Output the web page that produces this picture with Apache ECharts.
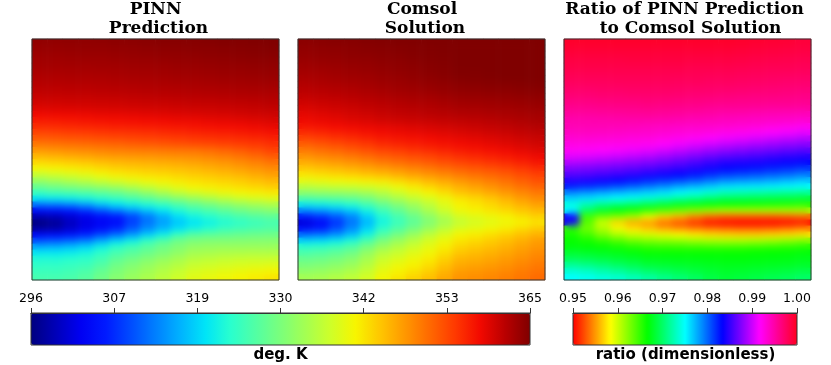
<!DOCTYPE html>
<html><head><meta charset="utf-8">
<style>html,body{margin:0;padding:0;background:#fff}#w{position:relative;width:831px;height:365px}#c{width:831px;height:365px}
.soft{position:absolute;top:40px;width:245px;height:239px;-webkit-backdrop-filter:blur(3.5px);backdrop-filter:blur(3.5px)}</style>
<script src="https://cdn.jsdelivr.net/npm/echarts@6/dist/echarts.min.js"></script>
</head><body><div id="w"><div id="c"></div><div class="soft" style="left:33px"></div><div class="soft" style="left:299px"></div><div class="soft" style="left:565px"></div></div><script>
const pinnRows = [
[363.9,363.9,364,364,364.1,364.2,364.3,364.4,364.5,364.5,364.6,364.7,364.8,364.8,364.9,365],
[363.6,363.6,363.7,363.8,363.8,363.9,364,364.1,364.2,364.3,364.4,364.4,364.5,364.6,364.7,364.8],
[363.3,363.3,363.4,363.5,363.5,363.6,363.7,363.8,363.9,364,364.1,364.2,364.3,364.4,364.5,364.6],
[363,363,363.1,363.2,363.2,363.3,363.4,363.5,363.6,363.7,363.8,363.9,364,364.1,364.2,364.3],
[362.8,362.8,362.9,362.9,363,363,363.1,363.2,363.3,363.4,363.5,363.6,363.7,363.8,363.9,364],
[362.4,362.4,362.5,362.6,362.6,362.7,362.8,362.9,363,363.1,363.2,363.3,363.4,363.5,363.6,363.7],
[362.1,362.1,362.2,362.2,362.3,362.4,362.5,362.6,362.7,362.8,362.9,363,363.1,363.2,363.3,363.4],
[361.7,361.7,361.8,361.8,361.9,362,362.1,362.2,362.3,362.4,362.5,362.6,362.7,362.8,362.9,363],
[361.3,361.3,361.4,361.4,361.5,361.6,361.7,361.8,361.9,362,362.1,362.2,362.3,362.4,362.5,362.6],
[360.8,360.8,360.9,360.9,361,361.1,361.2,361.3,361.4,361.5,361.6,361.7,361.8,361.9,362,362.1],
[360.2,360.2,360.3,360.3,360.4,360.5,360.6,360.7,360.8,360.9,361,361.1,361.2,361.3,361.4,361.6],
[359.4,359.5,359.6,359.7,359.8,359.9,360,360.1,360.2,360.3,360.4,360.5,360.6,360.7,360.9,361.1],
[358.3,358.4,358.5,358.6,358.8,358.9,359,359.2,359.3,359.5,359.6,359.8,359.9,360.1,360.3,360.5],
[357,357.1,357.3,357.5,357.7,357.9,358,358.2,358.3,358.5,358.6,358.8,359,359.2,359.4,359.7],
[355.7,355.9,356.1,356.3,356.5,356.7,356.9,357,357.2,357.4,357.6,357.8,358,358.2,358.5,358.8],
[354,354.2,354.5,354.7,355,355.2,355.4,355.6,355.9,356.1,356.4,356.6,356.8,357.1,357.4,357.7],
[352.3,352.5,352.8,353,353.3,353.6,353.9,354.2,354.4,354.7,355,355.3,355.5,355.8,356.1,356.5],
[350.1,350.4,350.7,351,351.3,351.6,352,352.3,352.7,353,353.4,353.7,354.1,354.5,354.9,355.4],
[347.8,348.2,348.6,348.9,349.3,349.7,349.9,350,350.2,350.4,350.5,351,351.6,352.3,353.2,354.1],
[345.4,345.8,346.3,346.7,347.2,347.6,347.8,348,348.3,348.5,348.7,349.2,349.8,350.5,351.3,352.2],
[343,343.4,343.8,344.3,344.9,345.4,345.7,346,346.3,346.6,347,347.5,348,348.7,349.5,350.4],
[340.6,341,341.5,342,342.8,343.6,344,344.4,344.7,345,345.4,346,346.6,347.2,348,348.7],
[337,337.8,338.6,339.4,340.5,341.5,342,342.6,343,343.5,344,344.5,345,345.6,346.4,347.2],
[333,334,335,336,337.3,338.5,339.5,340.4,341.2,341.9,342.5,343,343.5,344,344.8,345.5],
[329,330,331,332,333,334,335.5,337,338.5,339.8,341,341.5,342,342.7,343.3,344],
[325,326,326.5,327,328,329,330.5,332.5,334.5,336.5,338,339,340,340.7,341.3,341.8],
[320.5,321,321.5,322.5,323.8,325,326.5,328,329.8,331.5,333,334.5,336,337.3,338.2,339],
[312.5,313,314,315.5,318,320,321.5,323,324.5,326.5,328.5,330,331.5,332.8,333.8,334.5],
[304.5,305,306,308,310.5,313,315.5,318,320.5,323,325,326.5,328,329.5,330.6,331.5],
[299,299.5,301,302.5,304.5,306,309,312.5,316,319.5,322,323.5,325,326.3,327.3,328],
[296,297.5,300,302,303.5,304.5,309,312.5,315.5,318,320,321.5,323,324,325,326],
[298,298.5,300.5,302.5,304.5,307,310.5,314,317,319.8,322,323.5,325,325.8,326.5,327],
[304,304.5,305.5,307,309.5,312,315,318.5,321.5,325,327.5,328,328.5,329,329.2,329.5],
[310,310.5,311.5,313,316,319,321.5,324.5,327,329.5,330.5,331,331,331.2,331.4,331.5],
[316,316.5,317.5,319,321.5,324,325.8,327.5,329.5,331,332.5,332.8,333,333,333,333],
[320.5,320.5,321,322,324,326,327.5,329,330.5,332.2,333.8,334.2,334.6,334.8,335,335],
[323,323,323.5,324,325.5,328,329.5,331,332.5,334,335.5,336,336.5,336.8,337,337],
[324,324,324.5,325,327,329.5,331,332.5,334,335.3,336.8,337.3,337.8,338.2,338.5,338.8],
[325,325,325.5,326.5,328.5,330.5,332,333.5,335,336.5,338,338.6,339.2,339.7,340.2,340.5],
[326,326,326.5,327.5,329.5,331.5,333,334.5,336,337.5,339,339.7,340.3,340.9,341.5,342]
];
const comsolRows = [
[364.3,364.4,364.5,364.6,364.7,364.8,364.9,364.9,365,365,365,365,365,365,365,365],
[364,364.1,364.2,364.3,364.5,364.6,364.7,364.8,364.9,365,365,365,365,365,365,365],
[363.8,363.9,364,364.2,364.3,364.4,364.5,364.7,364.8,364.9,365,365,365,365,365,365],
[363.5,363.6,363.7,363.9,364,364.2,364.3,364.5,364.7,364.8,365,365,365,365,365,365],
[363.1,363.3,363.4,363.6,363.7,363.9,364.1,364.3,364.5,364.7,365,365,365,365,365,365],
[362.8,362.9,363.1,363.3,363.5,363.7,363.9,364.1,364.4,364.6,364.9,364.9,365,365,365,365],
[362.4,362.6,362.8,363,363.1,363.4,363.6,363.9,364.1,364.4,364.7,364.8,364.9,365,365,365],
[362,362.2,362.4,362.6,362.8,363.1,363.3,363.5,363.8,364,364.3,364.4,364.5,364.6,364.7,364.8],
[361.5,361.7,361.9,362.1,362.4,362.7,363,363.2,363.4,363.7,364,364.1,364.2,364.3,364.4,364.5],
[361,361.2,361.4,361.6,361.9,362.2,362.5,362.7,362.9,363.2,363.5,363.6,363.7,363.8,364,364.1],
[360.3,360.6,360.8,361.1,361.4,361.7,362,362.2,362.4,362.7,363,363.1,363.2,363.4,363.5,363.7],
[359.7,360,360.3,360.5,360.9,361.2,361.5,361.7,361.9,362.2,362.5,362.6,362.8,362.9,363.1,363.3],
[359,359.3,359.6,360,360.3,360.7,361,361.2,361.5,361.7,362,362.1,362.3,362.5,362.7,362.9],
[358.4,358.7,359,359.4,359.7,360.2,360.4,360.6,360.8,361,361.2,361.4,361.6,361.9,362.2,362.5],
[357.4,357.7,358.1,358.4,358.7,359,359.3,359.6,359.9,360.2,360.5,360.7,361,361.3,361.6,362],
[355.8,356.2,356.7,357.2,357.7,358.2,358.5,358.8,359.1,359.4,359.7,360,360.3,360.6,361,361.3],
[354,354.6,355.2,355.7,356.4,357,357.4,357.7,358.1,358.5,358.9,359.2,359.5,359.9,360.3,360.7],
[352,352.7,353.4,354.1,354.9,355.8,356.3,356.7,357.2,357.6,358,358.4,358.8,359.3,359.7,360.2],
[350,350.8,351.5,352.3,353.2,354,354.6,355.2,355.8,356.4,357,357.4,357.8,358.3,358.9,359.4],
[348.2,348.9,349.5,350.2,351.1,352,352.7,353.3,354,354.8,355.5,356,356.5,357.1,357.7,358.4],
[346.2,346.9,347.5,348.2,349.1,350,350.8,351.6,352.4,353.2,354,354.6,355.2,355.8,356.6,357.4],
[344.2,344.8,345.3,346,346.8,347.5,348.4,349.3,350.2,351.1,352,352.6,353.2,354,354.9,355.8],
[342,342.6,343.2,343.8,344.6,345.3,346.2,347.2,348.1,349,350,350.8,351.6,352.4,353.4,354.3],
[339.5,340,340.5,341,341.5,342,343.2,344.4,345.6,346.8,348,348.9,349.8,350.8,352,353],
[336,336.5,337,337.2,338,338.8,340.2,341.7,343.2,344.6,346,347,348.2,349.4,350.6,351.7],
[332,332.5,332.8,333.2,334,335.5,337.5,339.3,341,342.7,344.5,345.5,346.5,347.8,349,350],
[327,327.5,328,328.6,330,332.5,334.5,336.5,338.2,340,342,343,344.3,345.8,347.4,348.7],
[321,321.5,322.3,323.5,325.8,328.5,331,333.5,336,338.8,341,342,343,344.4,345.8,347],
[314,315,316.5,318.5,322,325.5,328.5,331.5,334.5,337.5,340,341,342,343,344.2,345.3],
[306.5,308,310.5,313.5,318.5,323,326,329,332,335,338,339,340,341,342.3,343.5],
[301.5,304,308,312.5,317,322,325,328,331,334,336.5,338,339,340,341,342],
[305,306.5,310,314,319,324,327,330,333,336,338.5,339.5,340.5,341.5,342.8,344],
[312,312.7,314.5,317.5,322,327,330,333,336,338.5,340.7,341.5,342.5,343.5,344.7,345.8],
[319,319.5,321,323,326.5,330.5,333,335.5,338,340,342,342.8,343.8,344.8,346,347.2],
[324,324.5,325.5,327,330,333,335.3,337.3,339.3,341.3,343.2,344,344.8,345.7,346.8,347.8],
[326.5,327,328,329.5,332.5,335.5,337,338.8,340.3,342.3,344.3,345,345.8,346.6,347.6,348.6],
[328.8,329.2,330.2,331.5,334,337,338.5,340,341.5,343.5,345.5,346,346.6,347.4,348.3,349.2],
[330.3,330.8,331.8,333,335.3,338.3,339.8,341,342.5,344.5,346.3,346.8,347.4,348.1,349,349.8],
[332,332.5,333.4,334.5,336.5,339.3,340.8,342,343.5,345.5,347.2,347.7,348.2,348.8,349.6,350.4],
[334,334.4,335.2,336.2,338,340.5,342,343.4,344.8,346.5,348,348.4,348.9,349.5,350.2,351]
];
const ratioRows = [
[.9996,.9996,.9996,.9996,.9996,.9996,.9996,.9996,.9996,.9996,.9996,.9995,.9994,.9993,.9992,.9990],
[.9993,.9993,.9993,.9993,.9993,.9993,.9993,.9993,.9993,.9993,.9993,.9992,.9991,.9990,.9989,.9988],
[.9990,.9990,.9990,.9990,.9990,.9990,.9990,.9990,.9990,.9990,.9990,.9989,.9988,.9987,.9986,.9985],
[.9987,.9987,.9987,.9987,.9988,.9988,.9988,.9988,.9987,.9987,.9987,.9986,.9985,.9984,.9983,.9982],
[.9985,.9985,.9985,.9985,.9985,.9985,.9985,.9985,.9984,.9984,.9984,.9983,.9982,.9981,.9981,.9980],
[.9982,.9982,.9982,.9982,.9982,.9982,.9982,.9982,.9981,.9981,.9981,.9980,.9979,.9978,.9978,.9977],
[.9979,.9979,.9979,.9980,.9980,.9980,.9980,.9979,.9979,.9978,.9978,.9977,.9976,.9975,.9974,.9973],
[.9976,.9976,.9976,.9977,.9977,.9977,.9977,.9976,.9976,.9975,.9975,.9974,.9973,.9972,.9971,.9970],
[.9972,.9972,.9973,.9973,.9974,.9974,.9974,.9973,.9972,.9972,.9971,.9970,.9969,.9968,.9967,.9966],
[.9968,.9968,.9969,.9969,.9970,.9970,.9970,.9969,.9968,.9967,.9966,.9965,.9964,.9964,.9963,.9962],
[.9963,.9963,.9964,.9965,.9965,.9966,.9965,.9964,.9963,.9962,.9961,.9960,.9960,.9959,.9959,.9958],
[.9958,.9958,.9959,.9960,.9960,.9961,.9960,.9959,.9958,.9956,.9955,.9955,.9954,.9953,.9953,.9952],
[.9953,.9953,.9954,.9954,.9955,.9955,.9954,.9953,.9951,.9950,.9948,.9947,.9945,.9944,.9943,.9942],
[.9947,.9947,.9947,.9948,.9948,.9948,.9947,.9946,.9944,.9943,.9941,.9940,.9939,.9938,.9937,.9935],
[.9945,.9945,.9945,.9944,.9943,.9941,.9940,.9938,.9937,.9936,.9935,.9933,.9931,.9928,.9925,.9922],
[.9940,.9940,.9939,.9938,.9937,.9936,.9934,.9932,.9930,.9928,.9925,.9923,.9920,.9917,.9914,.9910],
[.9934,.9934,.9933,.9932,.9930,.9929,.9926,.9923,.9920,.9916,.9912,.9909,.9905,.9901,.9897,.9893],
[.9927,.9926,.9925,.9924,.9923,.9921,.9917,.9912,.9907,.9902,.9897,.9893,.9889,.9885,.9881,.9878],
[.9920,.9919,.9917,.9914,.9911,.9908,.9903,.9897,.9891,.9885,.9880,.9876,.9872,.9869,.9865,.9862],
[.9908,.9906,.9903,.9900,.9896,.9892,.9886,.9880,.9874,.9868,.9862,.9859,.9856,.9852,.9848,.9845],
[.9892,.9890,.9887,.9883,.9879,.9875,.9870,.9864,.9858,.9851,.9845,.9843,.9841,.9838,.9835,.9833],
[.9875,.9873,.9870,.9867,.9864,.9860,.9855,.9850,.9844,.9839,.9834,.9831,.9828,.9824,.9820,.9815],
[.9862,.9860,.9857,.9853,.9848,.9842,.9838,.9834,.9828,.9821,.9815,.9811,.9808,.9804,.9800,.9795],
[.9845,.9842,.9838,.9834,.9828,.9822,.9817,.9811,.9805,.9797,.9790,.9787,.9784,.9780,.9775,.9770],
[.9825,.9820,.9815,.9808,.9802,.9795,.9788,.9780,.9774,.9767,.9760,.9758,.9757,.9755,.9752,.9750],
[.9790,.9785,.9780,.9775,.9770,.9765,.9760,.9752,.9745,.9737,.9730,.9727,.9724,.9721,.9718,.9715],
[.9765,.9760,.9755,.9750,.9745,.9738,.9730,.9720,.9712,.9703,.9695,.9693,.9691,.9689,.9687,.9685],
[.9740,.9725,.9712,.9705,.9698,.9690,.9682,.9675,.9672,.9668,.9665,.9664,.9662,.9660,.9658,.9655],
[.9750,.9700,.9680,.9670,.9660,.9650,.9640,.9630,.9622,.9615,.9610,.9610,.9610,.9610,.9610,.9610],
[.9840,.9645,.9630,.9622,.9610,.9590,.9570,.9560,.9545,.9535,.9530,.9530,.9530,.9530,.9532,.9535],
[.9840,.9640,.9600,.9570,.9555,.9550,.9535,.9525,.9515,.9505,.9502,.9500,.9500,.9500,.9502,.9505],
[.9650,.9630,.9610,.9590,.9575,.9565,.9555,.9548,.9542,.9538,.9535,.9533,.9533,.9535,.9540,.9545],
[.9660,.9645,.9625,.9610,.9600,.9595,.9590,.9585,.9578,.9573,.9570,.9568,.9568,.9570,.9572,.9575],
[.9665,.9660,.9650,.9640,.9630,.9625,.9622,.9620,.9615,.9612,.9610,.9610,.9612,.9615,.9620,.9625],
[.9670,.9668,.9665,.9660,.9655,.9650,.9648,.9647,.9646,.9645,.9645,.9646,.9648,.9650,.9652,.9655],
[.9683,.9680,.9677,.9674,.9670,.9665,.9665,.9665,.9665,.9665,.9665,.9665,.9666,.9667,.9668,.9670],
[.9695,.9692,.9688,.9684,.9680,.9675,.9674,.9673,.9672,.9671,.9670,.9670,.9671,.9672,.9673,.9675],
[.9715,.9710,.9705,.9698,.9692,.9685,.9683,.9681,.9679,.9677,.9675,.9675,.9676,.9677,.9678,.9680],
[.9735,.9730,.9722,.9716,.9708,.9700,.9695,.9691,.9687,.9683,.9680,.9681,.9683,.9685,.9687,.9690],
[.9750,.9745,.9740,.9735,.9728,.9720,.9712,.9705,.9698,.9690,.9685,.9687,.9690,.9693,.9696,.9700]
];
const tempLabels = ['296', '307', '319', '330', '342', '353', '365'];
const ratioLabels = ['0.95', '0.96', '0.97', '0.98', '0.99', '1.00'];
const jet = ['#000080','#0000b9','#0000f3','#001aff','#004cff','#0080ff','#00b3ff','#00e5f7','#29ffce','#52ffa4','#7bff7b','#a4ff52','#ceff29','#f7f500','#ffc600','#ff9700','#ff6800','#ff3900','#f30900','#b90000','#800000'];
const hsv = ['#ff0000','#ffff00','#00ff00','#00ffff','#0000ff','#ff00ff','#ff0020'];

const toCells = rows => rows.flatMap((row, r) => row.map((v, c) => [c, r, v]));
const idx = a => a.map((_, i) => String(i));
const panels = [
  {left: 32, rows: pinnRows, title: 'PINN \nPrediction', cx: 158.5},
  {left: 298, rows: comsolRows, title: 'Comsol \nSolution', cx: 425},
  {left: 564, rows: ratioRows, title: 'Ratio of PINN Prediction  \nto Comsol Solution', cx: 690.5}
];
const border = {show: true, borderColor: '#333', borderWidth: 1, backgroundColor: 'transparent', z: 10};
const serif = {fontFamily: 'DejaVu Serif', fontWeight: 'bold', fontSize: 17, lineHeight: 19, color: '#000'};
const sans = {fontFamily: 'DejaVu Sans', fontWeight: 'bold', fontSize: 15, color: '#000'};

const grid = panels.map(p => ({left: p.left, top: 39, width: 247, height: 241, ...border}));
grid.push({left: 31, top: 313, width: 499, height: 32, ...border});
grid.push({left: 573, top: 313, width: 224, height: 32, ...border});

const hiddenCat = (gridIndex, data, inverse) => ({type: 'category', gridIndex, data, inverse, show: false});
const xAxis = panels.map((p, i) => hiddenCat(i, idx(p.rows[0]), false));
const yAxis = panels.map((p, i) => hiddenCat(i, idx(p.rows), true));
const barAxis = (gridIndex, labels) => ({
  type: 'value', gridIndex, position: 'top', min: 0, max: labels.length - 1, interval: 1, z: 12,
  splitLine: {show: false},
  axisLine: {show: true, onZero: false, lineStyle: {color: '#333'}},
  axisTick: {show: true, length: 5, lineStyle: {color: '#333'}},
  axisLabel: {show: true, margin: 8, fontFamily: 'DejaVu Sans', fontSize: 12.5, color: '#000',
    formatter: v => labels[v]}
});
xAxis.push(barAxis(3, tempLabels), barAxis(4, ratioLabels));
yAxis.push({type: 'value', gridIndex: 3, show: false, min: 0, max: 1}, {type: 'value', gridIndex: 4, show: false, min: 0, max: 1});

const option = {
  animation: false,
  backgroundColor: '#fff',
  title: panels.map(p => ({text: p.title, left: p.cx, top: 0, padding: 0, textAlign: 'center', textStyle: serif}))
    .concat([
      {text: 'deg. K', left: 280.5, top: 348, padding: 0, textAlign: 'center', textStyle: sans},
      {text: 'ratio (dimensionless)', left: 685.5, top: 348, padding: 0, textAlign: 'center', textStyle: sans}
    ]),
  grid, xAxis, yAxis,
  visualMap: [
    {type: 'continuous', min: 296, max: 365, seriesIndex: [0, 1], orient: 'horizontal', left: 31, top: 313, padding: 0,
      itemWidth: 32, itemHeight: 499, calculable: false, realtime: false, text: null, showLabel: false, inRange: {color: jet}},
    {type: 'continuous', min: 0.95, max: 1, seriesIndex: [2], orient: 'horizontal', left: 573, top: 313, padding: 0,
      itemWidth: 32, itemHeight: 224, calculable: false, realtime: false, text: null, showLabel: false, inRange: {color: hsv}}
  ],
  series: panels.map((p, i) => ({type: 'heatmap', xAxisIndex: i, yAxisIndex: i, data: toCells(p.rows), progressive: 0, emphasis: {disabled: true}, silent: true}))
};
echarts.init(document.getElementById('c'), null, {renderer: 'canvas'}).setOption(option);
</script></body></html>
